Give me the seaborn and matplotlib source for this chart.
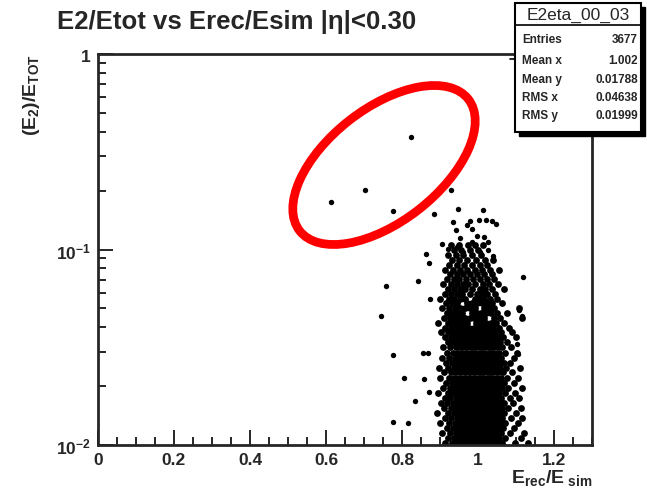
import matplotlib
matplotlib.use("Agg")
import matplotlib.pyplot as plt
import matplotlib.ticker as mticker
from matplotlib.patches import Ellipse, Rectangle
import seaborn as sns
import pandas as pd


# ==============================
# DATA
# ==============================
title = "E2/Etot vs Erec/Esim |\u03b7|<0.30"
stats_name = "E2eta_00_03"
stats_labels = ["Entries", "Mean x", "Mean y", "RMS x", "RMS y"]
stats_values = ["3677", "1.002", "0.01788", "0.04638", "0.01999"]

x_ticks = [0, 0.2, 0.4, 0.6, 0.8, 1.0, 1.2]
y_ticks = [0.01, 0.1, 1]
y_tick_labels = [r"$\mathbf{10^{-2}}$", r"$\mathbf{10^{-1}}$", r"$\mathbf{1}$"]

# dense core, one row of x values per y level
core_y = [0.0102, 0.0108, 0.0115, 0.0122, 0.0129, 0.0137, 0.0146, 0.0155,
          0.0164, 0.0174, 0.0185, 0.0196, 0.0208, 0.0221, 0.0235, 0.0249,
          0.0264, 0.0280, 0.0297, 0.0316, 0.0335, 0.0355]
core_x = [
    [0.912, 0.931, 0.944, 0.956, 0.967, 0.979, 0.991, 1.002, 1.014, 1.026, 1.037, 1.049, 1.063, 1.098, 1.131],
    [0.921, 0.937, 0.950, 0.961, 0.973, 0.985, 0.997, 1.008, 1.020, 1.031, 1.043, 1.056, 1.071, 1.112],
    [0.905, 0.927, 0.942, 0.954, 0.966, 0.978, 0.990, 1.001, 1.013, 1.025, 1.036, 1.048, 1.060, 1.083, 1.121],
    [0.918, 0.933, 0.947, 0.959, 0.971, 0.983, 0.994, 1.006, 1.018, 1.029, 1.041, 1.053, 1.066, 1.094],
    [0.899, 0.925, 0.939, 0.952, 0.964, 0.976, 0.988, 0.999, 1.011, 1.022, 1.034, 1.046, 1.058, 1.072, 1.106],
    [0.914, 0.930, 0.944, 0.957, 0.969, 0.981, 0.993, 1.004, 1.016, 1.027, 1.039, 1.051, 1.064, 1.088, 1.117],
    [0.893, 0.921, 0.936, 0.949, 0.962, 0.974, 0.986, 0.997, 1.009, 1.021, 1.032, 1.044, 1.056, 1.069, 1.101],
    [0.910, 0.928, 0.942, 0.955, 0.967, 0.979, 0.991, 1.003, 1.015, 1.026, 1.038, 1.050, 1.062, 1.078, 1.113],
    [0.902, 0.919, 0.934, 0.947, 0.960, 0.972, 0.984, 0.996, 1.008, 1.019, 1.031, 1.043, 1.055, 1.068, 1.092],
    [0.913, 0.927, 0.941, 0.953, 0.965, 0.977, 0.989, 1.001, 1.013, 1.024, 1.036, 1.048, 1.061, 1.083, 1.109],
    [0.896, 0.920, 0.935, 0.948, 0.960, 0.972, 0.984, 0.996, 1.007, 1.019, 1.031, 1.043, 1.055, 1.070, 1.098],
    [0.908, 0.926, 0.940, 0.953, 0.966, 0.978, 0.990, 1.002, 1.013, 1.025, 1.037, 1.049, 1.062, 1.080, 1.115],
    [0.917, 0.932, 0.946, 0.959, 0.971, 0.983, 0.995, 1.007, 1.018, 1.030, 1.042, 1.055, 1.069, 1.094],
    [0.901, 0.923, 0.938, 0.951, 0.964, 0.976, 0.988, 1.000, 1.011, 1.023, 1.035, 1.047, 1.060, 1.076, 1.104],
    [0.911, 0.929, 0.943, 0.956, 0.968, 0.980, 0.992, 1.004, 1.016, 1.028, 1.040, 1.052, 1.066, 1.089],
    [0.897, 0.921, 0.936, 0.949, 0.962, 0.974, 0.986, 0.998, 1.010, 1.021, 1.033, 1.045, 1.058, 1.073, 1.110],
    [0.915, 0.931, 0.945, 0.957, 0.969, 0.981, 0.993, 1.005, 1.017, 1.029, 1.041, 1.054, 1.068, 1.085],
    [0.906, 0.925, 0.939, 0.952, 0.964, 0.976, 0.988, 1.000, 1.012, 1.024, 1.036, 1.048, 1.061, 1.096],
    [0.918, 0.933, 0.947, 0.959, 0.971, 0.983, 0.995, 1.007, 1.019, 1.031, 1.043, 1.056, 1.071, 1.103],
    [0.909, 0.926, 0.941, 0.954, 0.966, 0.978, 0.990, 1.002, 1.014, 1.026, 1.038, 1.050, 1.064, 1.087],
    [0.920, 0.935, 0.948, 0.960, 0.972, 0.984, 0.996, 1.008, 1.020, 1.032, 1.045, 1.059, 1.076],
    [0.912, 0.929, 0.943, 0.956, 0.968, 0.980, 0.992, 1.004, 1.016, 1.028, 1.040, 1.053, 1.067, 1.099],
]

# middle part of the cloud, a little thinner
mid_y = [0.0377, 0.0399, 0.0422, 0.0447, 0.0473, 0.0501, 0.0530, 0.0561,
         0.0594, 0.0629, 0.0666]
mid_x = [
    [0.903, 0.921, 0.934, 0.946, 0.958, 0.971, 0.983, 0.995, 1.008, 1.020, 1.033, 1.046, 1.061, 1.090],
    [0.914, 0.928, 0.940, 0.953, 0.965, 0.977, 0.990, 1.002, 1.014, 1.027, 1.040, 1.055, 1.081],
    [0.896, 0.920, 0.933, 0.946, 0.959, 0.971, 0.996, 1.008, 1.021, 1.034, 1.048, 1.069],
    [0.910, 0.926, 0.939, 0.952, 0.965, 0.978, 0.990, 1.003, 1.015, 1.041, 1.058, 1.116],
    [0.918, 0.932, 0.945, 0.958, 0.984, 0.997, 1.009, 1.022, 1.035, 1.049, 1.077],
    [0.905, 0.925, 0.939, 0.952, 0.965, 0.978, 0.991, 1.016, 1.029, 1.043, 1.108],
    [0.916, 0.931, 0.946, 0.971, 0.984, 0.997, 1.010, 1.023, 1.037, 1.062],
    [0.899, 0.924, 0.938, 0.952, 0.965, 0.991, 1.004, 1.017, 1.031, 1.050],
    [0.913, 0.930, 0.945, 0.959, 0.978, 0.997, 1.011, 1.025, 1.044],
    [0.921, 0.937, 0.952, 0.967, 0.985, 1.004, 1.019, 1.036, 1.068],
    [0.908, 0.929, 0.944, 0.960, 0.975, 0.993, 1.012, 1.030, 1.053],
]

# sparse top of the cloud
up_y = [0.0705, 0.0746, 0.0790, 0.0836, 0.0885, 0.0937, 0.0992, 0.105]
up_x = [
    [0.918, 0.936, 0.951, 0.968, 0.986, 1.005, 1.024, 1.043],
    [0.927, 0.944, 0.960, 0.979, 0.998, 1.017, 1.037],
    [0.912, 0.935, 0.953, 0.972, 0.992, 1.011, 1.031, 1.055],
    [0.925, 0.944, 0.964, 0.985, 1.004, 1.024],
    [0.931, 0.950, 0.970, 0.996, 1.018, 1.040],
    [0.922, 0.942, 0.961, 0.983, 1.009],
    [0.936, 0.955, 0.978, 1.000],
    [0.930, 0.951, 0.973, 0.993, 1.014],
]

# single points outside the cloud
stray_x = [0.824, 0.703, 0.613, 0.776, 0.929, 0.947, 1.013, 0.884, 0.934, 0.979,
           0.971, 1.003, 1.021, 1.037, 1.047, 0.942, 0.984, 0.953, 0.997, 1.016,
           0.984, 1.026, 0.921, 0.945, 0.961, 1.005, 1.026, 1.039, 0.905, 0.863,
           0.871, 0.842, 0.758, 0.745, 0.874, 0.776, 0.805, 0.855, 0.868, 0.858,
           0.871, 0.834, 0.776, 0.816, 1.118, 1.108, 1.116, 1.103, 1.105]
stray_y = [0.376, 0.201, 0.175, 0.157, 0.201, 0.161, 0.159, 0.152, 0.138, 0.140,
           0.133, 0.141, 0.141, 0.140, 0.135, 0.126, 0.128, 0.115, 0.117, 0.116,
           0.109, 0.109, 0.1006, 0.1024, 0.0971, 0.0971, 0.0995, 0.0927, 0.1067, 0.0948,
           0.0853, 0.069, 0.0651, 0.0457, 0.0558, 0.0289, 0.0220, 0.0296, 0.0296, 0.0218,
           0.0187, 0.0168, 0.0131, 0.0130, 0.0723, 0.049, 0.0457, 0.0329, 0.0292]


# ==============================
# BUILD TABLES
# ==============================
cx, cy = [], []
for levels, rows in [(core_y, core_x), (mid_y, mid_x), (up_y, up_x)]:
    for yv, row in zip(levels, rows):
        cx += row
        cy += [yv] * len(row)
cloud = pd.DataFrame({"erec_esim": cx, "e2_etot": cy})
stray = pd.DataFrame({"erec_esim": stray_x, "e2_etot": stray_y})


# ==============================
# STYLE
# ==============================
sns.set_style("ticks")
plt.rcParams["font.family"] = ["Liberation Sans", "DejaVu Sans"]
plt.rcParams["font.weight"] = "bold"
plt.rcParams["mathtext.fontset"] = "custom"
plt.rcParams["mathtext.rm"] = "Liberation Sans:bold"
plt.rcParams["mathtext.bf"] = "Liberation Sans:bold"
plt.rcParams["mathtext.it"] = "Liberation Sans:bold"

fig = plt.figure(figsize=(6.47, 4.89), dpi=100)
ax = fig.add_axes([98 / 647, 43 / 489, 494 / 647, 391 / 489])

sns.scatterplot(data=cloud, x="erec_esim", y="e2_etot", ax=ax, color="black",
                s=24, linewidth=0, legend=False)
sns.scatterplot(data=stray, x="erec_esim", y="e2_etot", ax=ax, color="black",
                s=15, linewidth=0, legend=False)

ax.set_yscale("log")
ax.set_xlim(0, 1.3)
ax.set_ylim(0.01, 1)
ax.set_xlabel("")
ax.set_ylabel("")

ax.set_xticks(x_ticks)
ax.xaxis.set_major_formatter(mticker.FuncFormatter(lambda v, p: f"{v:g}"))
ax.xaxis.set_minor_locator(mticker.MultipleLocator(0.05))
ax.set_yticks(y_ticks)
ax.set_yticklabels(y_tick_labels)
ax.yaxis.set_minor_locator(mticker.LogLocator(base=10, subs=range(2, 10)))
ax.yaxis.set_minor_formatter(mticker.NullFormatter())

ax.tick_params(which="both", direction="in", top=False, right=False,
               width=1.4, labelsize=12.5)
ax.tick_params(which="major", length=11, pad=5)
ax.tick_params(which="minor", length=6)
for side in ax.spines.values():
    side.set_linewidth(2)
    side.set_visible(True)

# titles and axis labels
fig.text(57 / 647, 1 - 22 / 489, title, fontsize=18.5, fontweight="bold",
         ha="left", va="center")
fig.text(592 / 647, 1 - 478 / 489, r"$\mathbf{E_{rec}/E_{\ sim}}$",
         fontsize=14, ha="right", va="center")
fig.text(32 / 647, 1 - 54 / 489, r"$\mathbf{(E_{2})/E_{TOT}}$",
         fontsize=14, rotation=90, ha="center", va="top")

# stats box with shadow
box_l, box_r, box_t, box_b = 515, 641, 4, 133
fig_w, fig_h = 647, 489
shadow = Rectangle(((box_l + 4) / fig_w, 1 - (box_b + 4) / fig_h),
                   (box_r - box_l) / fig_w, (box_b - box_t) / fig_h,
                   transform=fig.transFigure, facecolor="black",
                   edgecolor="black", zorder=5)
box = Rectangle((box_l / fig_w, 1 - box_b / fig_h),
                (box_r - box_l) / fig_w, (box_b - box_t) / fig_h,
                transform=fig.transFigure, facecolor="white",
                edgecolor="black", linewidth=1.5, zorder=6)
fig.add_artist(shadow)
fig.add_artist(box)
fig.add_artist(plt.Line2D([box_l / fig_w, box_r / fig_w],
                          [1 - 26 / fig_h, 1 - 26 / fig_h],
                          transform=fig.transFigure, color="black", lw=1.2, zorder=7))
fig.add_artist(plt.Line2D([510 / fig_w, box_l / fig_w],
                          [1 - 60 / fig_h, 1 - 60 / fig_h],
                          transform=fig.transFigure, color="black", lw=1.2, zorder=7))
fig.text((box_l + box_r) / 2 / fig_w, 1 - 15.5 / fig_h, stats_name,
         fontsize=12.5, fontweight="normal", ha="center", va="center", zorder=8)
row_y = [40, 61, 80, 98, 116]
for lab, val, yy in zip(stats_labels, stats_values, row_y):
    fig.text(522 / fig_w, 1 - yy / fig_h, lab, fontsize=8.5,
             ha="left", va="center", zorder=8)
    fig.text(638 / fig_w, 1 - yy / fig_h, val, fontsize=8.5,
             ha="right", va="center", zorder=8)

# red ellipse marking the outliers (figure inches)
ring = Ellipse((3.84, 3.23), 2.14, 1.13, angle=38, transform=fig.dpi_scale_trans,
               fill=False, edgecolor="#ff0000", linewidth=6.3, zorder=10)
fig.add_artist(ring)

fig.savefig("out.png", dpi=100)
plt.close(fig)
